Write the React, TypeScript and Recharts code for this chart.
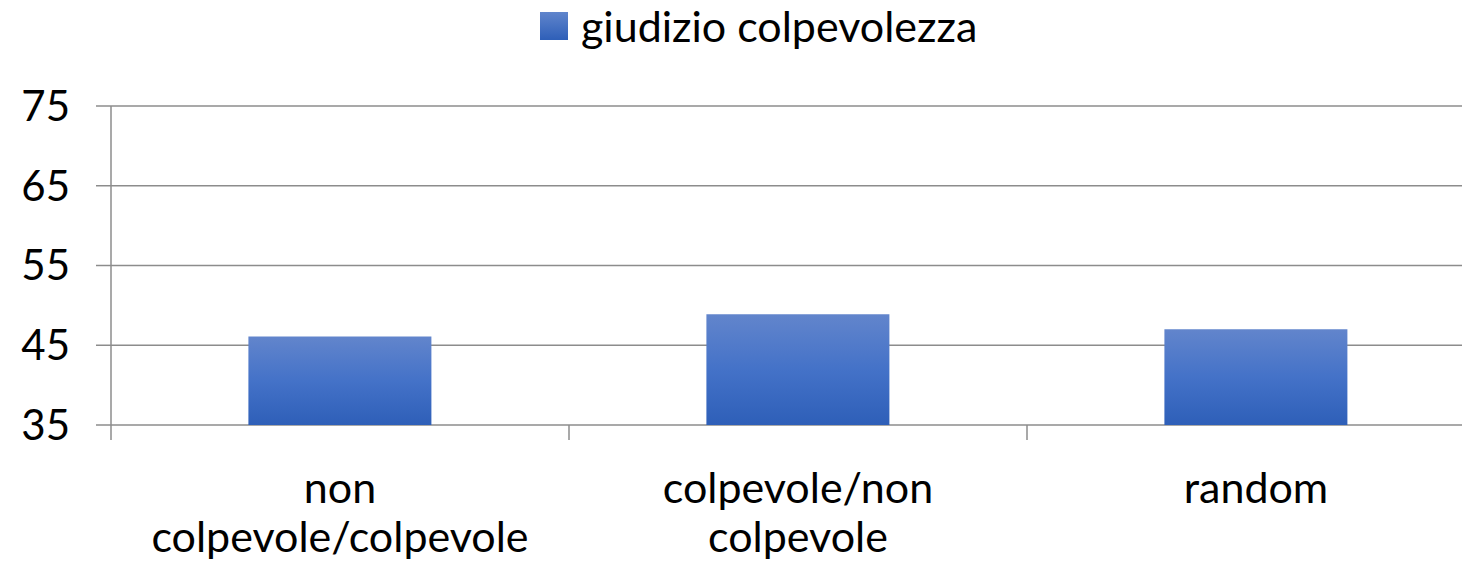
import { Bar, BarChart, CartesianGrid, XAxis, YAxis } from "recharts";

const categories = ["non colpevole/colpevole", "colpevole/non colpevole", "random"];
const giudizio = [46.1, 48.9, 47.0];
const yTicks = [35, 45, 55, 65, 75];
const seriesName = "giudizio colpevolezza";

const rows = categories.map((name, i) => ({ name, value: giudizio[i] }));
const font = "Lato, 'Open Sans', sans-serif";
const grid = "#8c8c8c";

// greedy word wrap, about as wide as a category
function wrap(label: string, maxChars = 20) {
  const lines: string[] = [];
  for (const w of label.split(" ")) {
    const last = lines[lines.length - 1];
    if (last !== undefined && (last + " " + w).length <= maxChars) lines[lines.length - 1] = last + " " + w;
    else lines.push(w);
  }
  return lines;
}

function CategoryTick(props: any) {
  const { x, y, payload } = props;
  const half = payload?.offset ?? 0;
  return <g>
    <line x1={x - half} x2={x - half} y1={y - 15} y2={y} stroke={grid} strokeWidth={1.5} />
    <text x={x} y={y + 63} textAnchor="middle" style={{ fontSize: 43, fill: "#000", fontFamily: font }}>
      {wrap(String(payload.value)).map((line, i) => <tspan key={i} x={x} dy={i === 0 ? 0 : 49}>{line}</tspan>)}
    </text>
  </g>;
}

export default function App() {
  return <div style={{ position: "absolute", left: 0, top: 0, width: 1462, height: 572, overflow: "hidden", background: "#fff", fontFamily: font }}>
    <div style={{ position: "absolute", left: 540, top: 1, display: "flex", alignItems: "center", lineHeight: "50px", fontSize: 43, color: "#000", zIndex: 2 }}>
      <span style={{ width: 28, height: 28, marginRight: 13, background: "linear-gradient(#6085cc, #2e5fb8)" }} />
      <span>{seriesName}</span>
    </div>
    <BarChart width={1486} height={572} data={rows} margin={{ top: 106, right: 1, left: 0, bottom: 0 }} barCategoryGap="30%">
      <defs>
        <linearGradient id="barFill" x1="0" y1="0" x2="0" y2="1">
          <stop offset="0%" stopColor="#6285cc" />
          <stop offset="50%" stopColor="#4472c8" />
          <stop offset="100%" stopColor="#2e5fb8" />
        </linearGradient>
      </defs>
      <CartesianGrid vertical={false} stroke={grid} strokeWidth={1.5} />
      <XAxis dataKey="name" height={147} axisLine={false} tickSize={15} tickMargin={0} tickLine={false} interval={0} tick={<CategoryTick />} />
      <YAxis type="number" domain={[35, 75]} ticks={yTicks} width={111} tickSize={15} tickMargin={26} axisLine={{ stroke: grid, strokeWidth: 1.5 }} tickLine={{ stroke: grid, strokeWidth: 1.5 }} tick={{ fontSize: 42, fill: "#000", fontFamily: font }} allowDataOverflow />
      <Bar dataKey="value" name={seriesName} fill="url(#barFill)" isAnimationActive={false} />
    </BarChart>
  </div>;
}
